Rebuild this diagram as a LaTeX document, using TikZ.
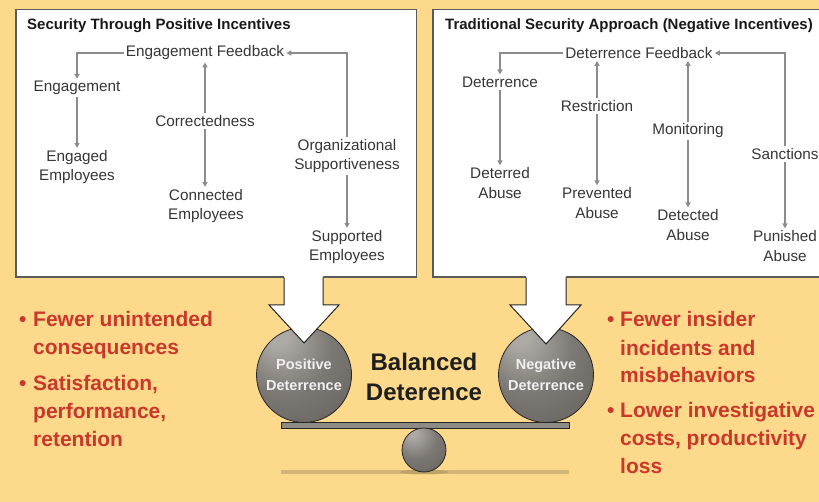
\documentclass[tikz,border=0pt]{standalone}
\usepackage{fontspec}
\setmainfont{Liberation Sans}
\usetikzlibrary{arrows.meta}

\definecolor{bgorange}{HTML}{FDD98B}
\definecolor{framegray}{HTML}{5A5A5A}
\definecolor{linkgray}{HTML}{8C8C8C}
\definecolor{labelgray}{HTML}{363636}
\definecolor{bulletred}{HTML}{C8382B}
\definecolor{plankgray}{HTML}{8E8A85}
\definecolor{shadowtan}{HTML}{D3B676}
\definecolor{sphereA}{HTML}{ADAAA6}
\definecolor{sphereB}{HTML}{7C7874}
\definecolor{sphereC}{HTML}{64605C}
\definecolor{sphereD}{HTML}{47433F}
\pgfdeclareradialshading{sphere}{\pgfpoint{-15bp}{22bp}}{color(0bp)=(sphereA); color(5bp)=(sphereA); color(24bp)=(sphereB); color(46bp)=(sphereC); color(70bp)=(sphereD)}

\begin{document}
\begin{tikzpicture}[x=1pt,y=-1pt,
    lbl/.style={font=\fontsize{15.3}{19.5}\selectfont, text=labelgray, align=center, inner sep=2pt},
    ttl/.style={font=\bfseries\fontsize{15}{17}\selectfont, text=black!90, anchor=base west, inner sep=0pt},
    link/.style={draw=linkgray, line width=1.6pt, -{Triangle[length=5pt,width=5pt]}},
    frame/.style={draw=framegray, line width=1.2pt, fill=white},
    bigarrow/.style={draw=black!85, line width=1pt},
    ball/.style={circle, draw=black!85, line width=0.8pt, shading=sphere, inner sep=0pt},
    balltxt/.style={text=white!94!black, align=center, font=\bfseries\fontsize{14.5}{21}\selectfont},
    redtxt/.style={font=\bfseries\fontsize{21}{28}\selectfont, text=bulletred, align=left, anchor=base west, inner sep=0pt}]

  % background and the two panels
  \fill[bgorange] (0,0) rectangle (819,502);
  \useasboundingbox (0,0) rectangle (819,502);
  \clip (0,0) rectangle (819,502);
  \draw[frame] (16,9.5) rectangle (416.5,277);
  \draw[frame] (433,9.5) rectangle (830,277);

  % positive incentives panel
  \node[ttl] (posttl) at (27,30) {Security Through Positive Incentives};
  \node[lbl] (engfb) at (205,53) {Engagement Feedback};
  \node[lbl] (engage) at (77,88) {Engagement};
  \node[lbl] (engaged) at (77,167) {Engaged\\Employees};
  \node[lbl] (correct) at (205,121) {Correctedness};
  \node[lbl] (connected) at (206,206) {Connected\\Employees};
  \node[lbl] (orgsupp) at (347,156) {Organizational\\Supportiveness};
  \node[lbl] (supported) at (347,247) {Supported\\Employees};

  \draw[link] (engfb.west) -| (engage.north);
  \draw[link] (engage.south) -- (engaged.north);
  \draw[link] (correct.north) -- (engfb.south);
  \draw[link] (correct.south) -- (correct.south |- connected.north);
  \draw[link] (orgsupp.north) |- (engfb.east);
  \draw[link] (orgsupp.south) -- (supported.north);

  % negative incentives panel
  \node[ttl] (negttl) at (445,30) {Traditional Security Approach (Negative Incentives)};
  \node[lbl] (detfb) at (639,53) {Deterrence Feedback};
  \node[lbl] (deter) at (500,82) {Deterrence};
  \node[lbl] (deterred) at (500,183) {Deterred\\Abuse};
  \node[lbl] (restrict) at (597,106) {Restriction};
  \node[lbl] (prevented) at (597,203) {Prevented\\Abuse};
  \node[lbl] (monitor) at (688,131) {Monitoring};
  \node[lbl] (detected) at (688,225) {Detected\\Abuse};
  \node[lbl] (sanction) at (785,154) {Sanctions};
  \node[lbl] (punished) at (785,246) {Punished\\Abuse};

  \draw[link] (detfb.west) -| (deter.north);
  \draw[link] (deter.south) -- (deterred.north);
  \draw[link] (restrict.north) -- (restrict.north |- detfb.south);
  \draw[link] (restrict.south) -- (prevented.north);
  \draw[link] (monitor.north) -- (monitor.north |- detfb.south);
  \draw[link] (monitor.south) -- (detected.north);
  \draw[link] (sanction.north) |- (detfb.east);
  \draw[link] (sanction.south) -- (punished.north);

  % the balance
  \fill[shadowtan] (281,470) rectangle (569,474);
  \fill[shadowtan!80!black, opacity=0.5] (424,472) ellipse (24 and 2.5);
  \draw[fill=plankgray, draw=black!85, line width=0.9pt] (281,422) rectangle (569,428);
  \node[ball, minimum size=44pt] (fulcrum) at (424,450) {};
  \node[ball, balltxt, minimum size=95pt] (posball) at (304,375) {Positive\\Deterrence};
  \node[ball, balltxt, minimum size=95pt] (negball) at (546,375) {Negative\\Deterrence};

  % big arrows out of the panels
  \fill[white] (284,275) -- (284,305) -- (269,305) -- (304,343) -- (339,305) -- (323,305) -- (323,275) -- cycle;
  \draw[bigarrow] (284,277.5) -- (284,305) -- (269,305) -- (304,343) -- (339,305) -- (323,305) -- (323,277.5);
  \fill[white] (526,275) -- (526,305) -- (510,305) -- (546,344) -- (581,305) -- (566,305) -- (566,275) -- cycle;
  \draw[bigarrow] (526,277.5) -- (526,305) -- (510,305) -- (546,344) -- (581,305) -- (566,305) -- (566,277.5);

  \node[font=\bfseries\fontsize{24}{30}\selectfont, text=black!88, align=center] (balanced) at (424,377) {Balanced\\Deterence};

  % outcomes (multi-line nodes sit on their last baseline)
  \node[redtxt] (dotA) at (19,327) {\textbullet};
  \node[redtxt] (fewerA) at (33,355) {Fewer unintended\\consequences};
  \node[redtxt] (dotB) at (19,390) {\textbullet};
  \node[redtxt] (satisf) at (33,446) {Satisfaction,\\performance,\\retention};
  \node[redtxt] (dotC) at (607,327) {\textbullet};
  \node[redtxt] (fewerB) at (620,383) {Fewer insider\\incidents and\\misbehaviors};
  \node[redtxt] (dotD) at (607,417) {\textbullet};
  \node[redtxt] (lower) at (620,473) {Lower investigative\\costs, productivity\\loss};
\end{tikzpicture}
\end{document}
